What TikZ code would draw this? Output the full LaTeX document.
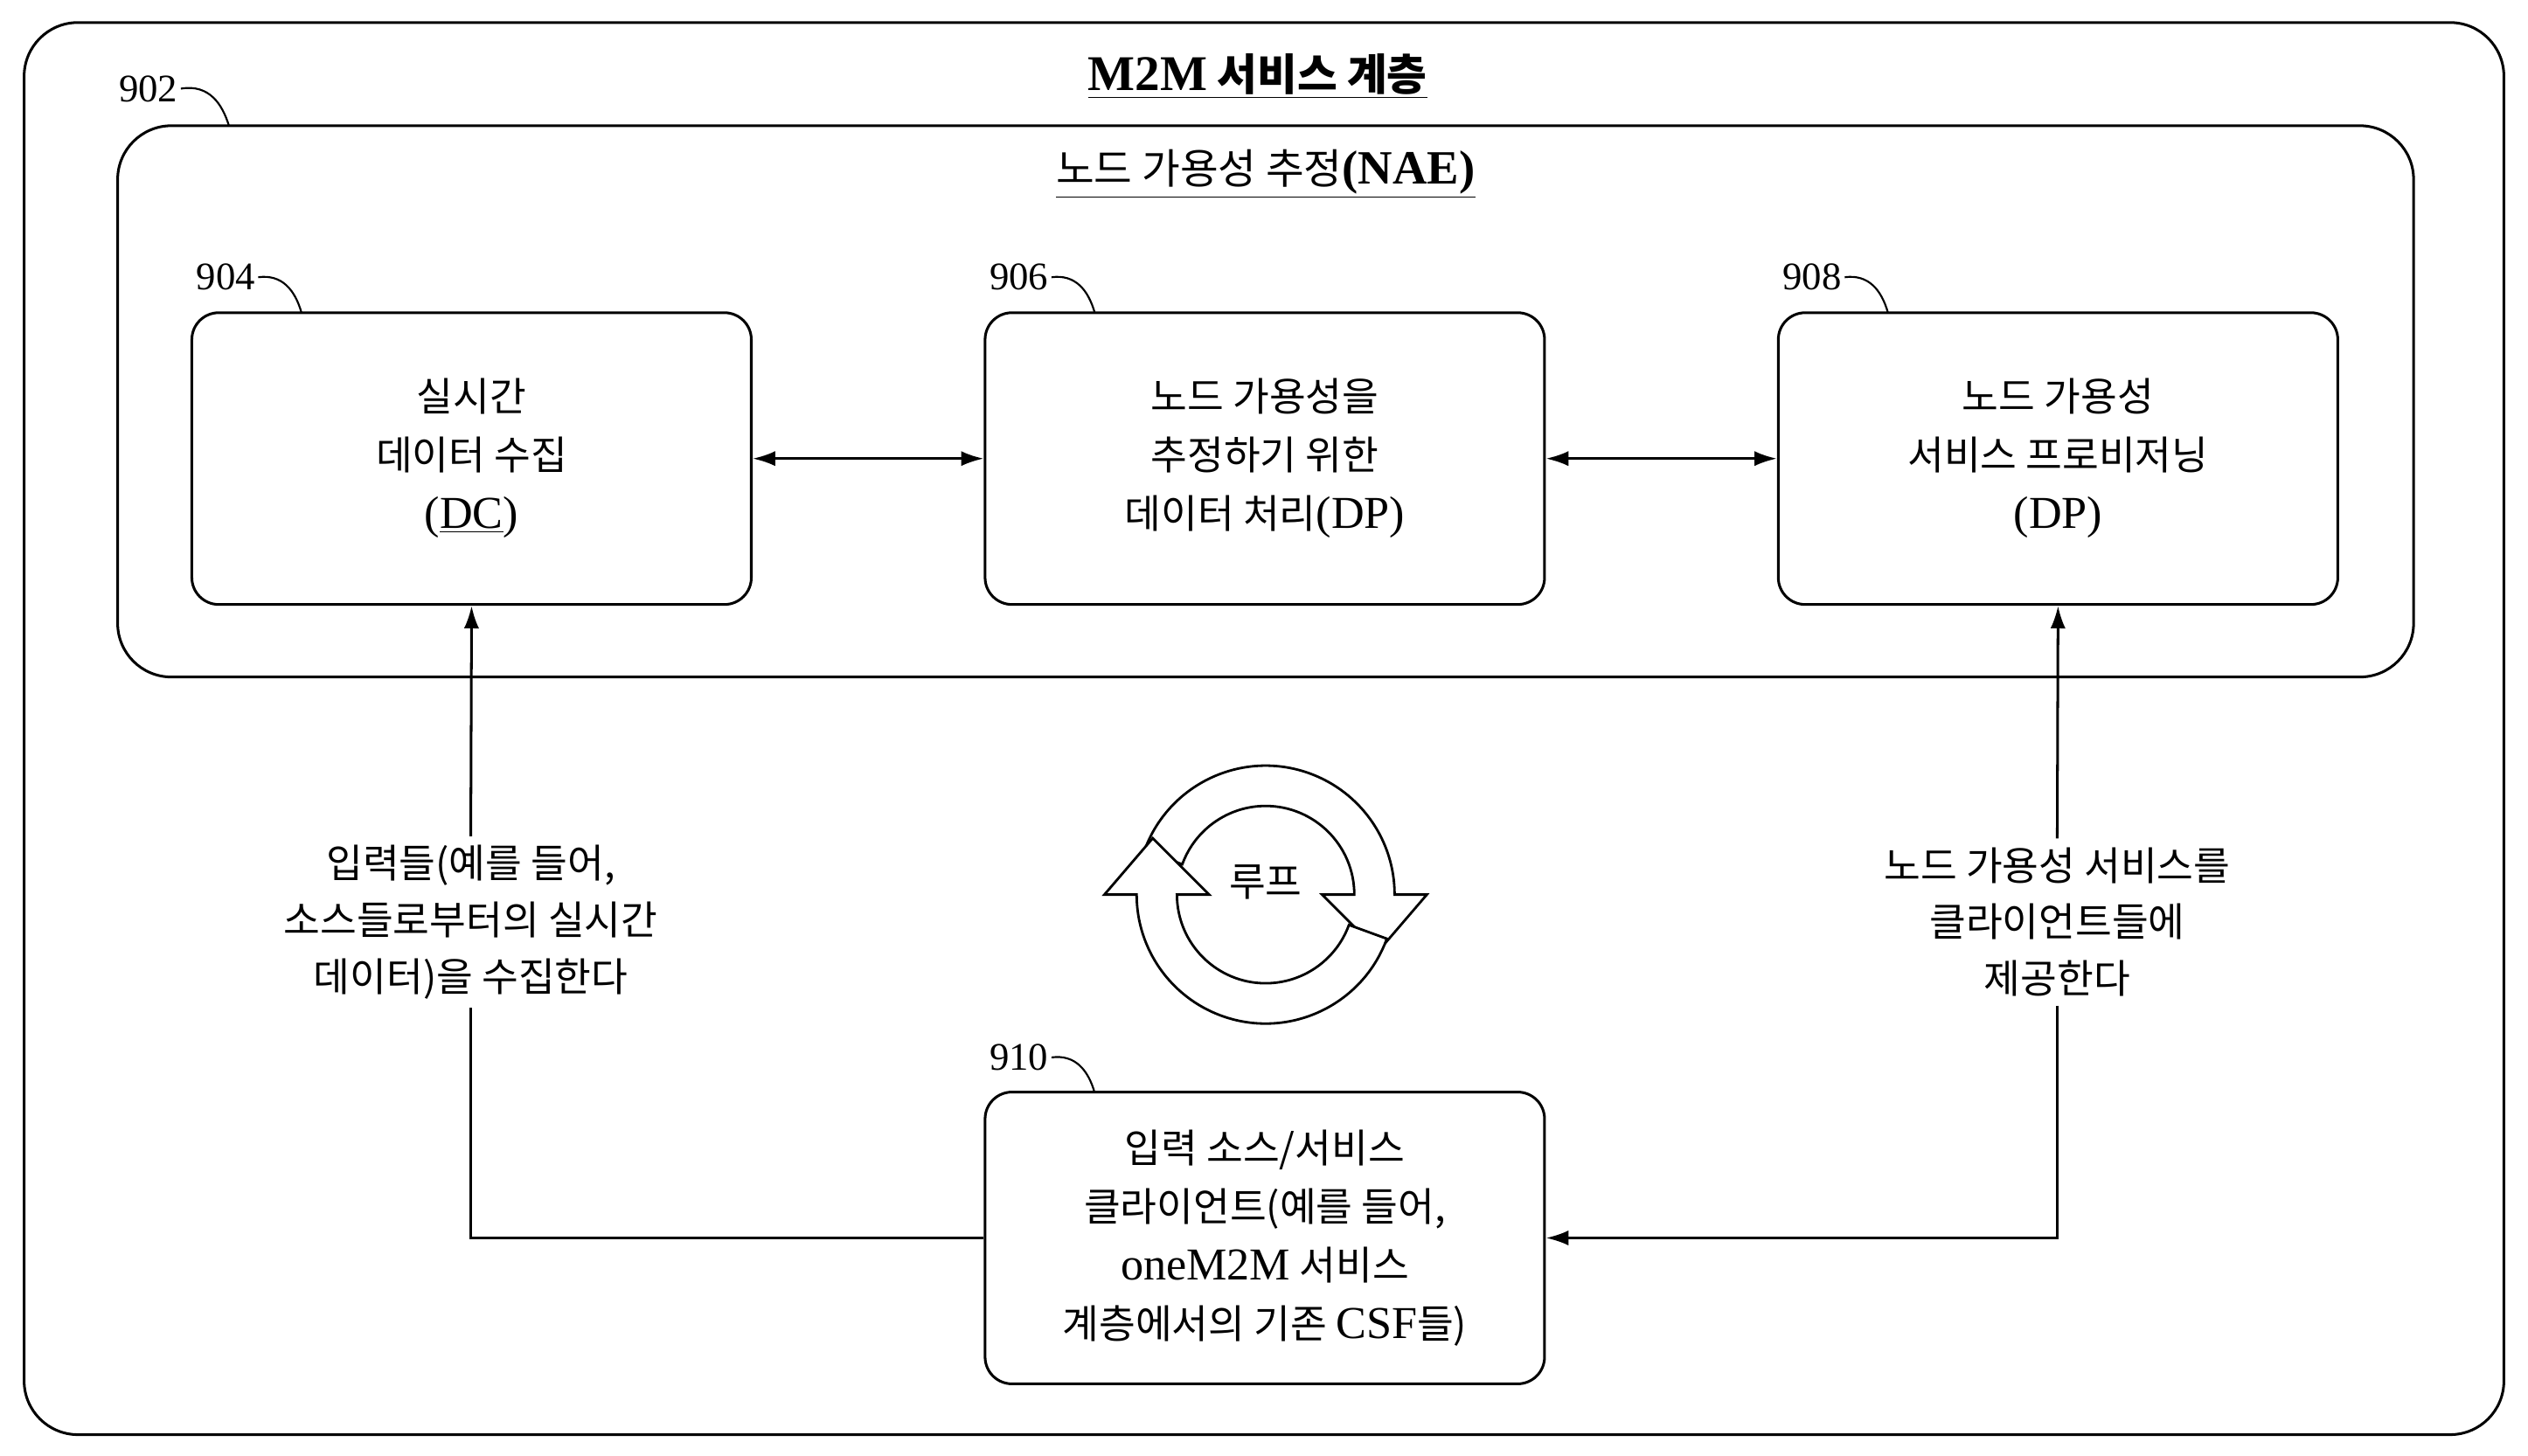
\documentclass[tikz,border=0pt]{standalone}
\usepackage{fontspec}
\setmainfont{Liberation Serif}[Scale=1.15]
\newfontfamily\kr{Noto Sans CJK KR}
\newcommand\lt[1]{{\rmfamily #1}}
\usetikzlibrary{arrows.meta}
\begin{document}
\begin{tikzpicture}[x=0.03cm,y=-0.03cm,line width=1.4pt,
 box/.style={draw,rounded corners=0.5cm,minimum width=10.41cm,minimum height=5.43cm,align=center,font=\kr\fontsize{21}{31}\selectfont},
 num/.style={font=\rmfamily\fontsize{18}{22}\selectfont,inner sep=1pt},
 lbl/.style={align=center,font=\kr\fontsize{21}{30}\selectfont,inner sep=4pt},
 arr/.style={-{Latex[length=0.42cm,width=0.28cm]}},
 darr/.style={{Latex[length=0.42cm,width=0.28cm]}-{Latex[length=0.42cm,width=0.28cm]}}]
\useasboundingbox (0,0) rectangle (1568,903);
\node[draw,rounded corners=1cm,minimum width=46.14cm,minimum height=26.28cm] (outer) at (784,452) {};
\node[font=\kr\bfseries\fontsize{23}{26}\selectfont] (t0) at (780,47) {\underline{\lt{\textbf{M2M}} 서비스 계층}};
\node[draw,rounded corners=1cm,minimum width=42.72cm,minimum height=10.26cm] (nae) at (785,249) {};
\node[font=\kr\fontsize{22}{26}\selectfont] (t1) at (785,108) {\underline{노드 가용성 추정\lt{\textbf{(NAE)}}}};
\node[box] (dc) at (292.5,284.5) {실시간\\데이터 수집\\\lt{(\underline{DC})}};
\node[box] (dp1) at (784.5,284.5) {노드 가용성을\\추정하기 위한\\데이터 처리\lt{(DP)}};
\node[box] (dp2) at (1276.5,284.5) {노드 가용성\\서비스 프로비저닝\\\lt{(DP)}};
\node[box] (src) at (784.5,768) {입력 소스/서비스\\클라이언트(예를 들어,\\\lt{oneM2M} 서비스\\계층에서의 기존 \lt{CSF}들)};
\node[num] (n902) at (92,55) {902};
\node[num] (n904) at (140,172) {904};
\node[num] (n906) at (632,172) {906};
\node[num] (n908) at (1124,172) {908};
\node[num] (n910) at (632,656) {910};
\draw[line width=1pt] (n902.east) .. controls (130,52) and (138,65) .. (142,78);
\draw[line width=1pt] (n904.east) .. controls (175,170) and (183,180) .. (187,194);
\draw[line width=1pt] (n906.east) .. controls (667,170) and (675,180) .. (679,194);
\draw[line width=1pt] (n908.east) .. controls (1159,170) and (1167,180) .. (1171,194);
\draw[line width=1pt] (n910.east) .. controls (667,654) and (675,664) .. (679,678);
\draw[darr] (dc) -- (dp1);
\draw[darr] (dp1) -- (dp2);
\node[lbl] (in) at (292,572) {입력들(예를 들어,\\소스들로부터의 실시간\\데이터)을 수집한다};
\node[lbl] (out) at (1276,572) {노드 가용성 서비스를\\클라이언트들에\\제공한다};
\draw[arr] (in.north) -- (dc.south);
\draw (src.west) -| (in.south);
\draw[arr] (out.north) -- (dp2.south);
\draw[arr] (out.south) |- (src.east);
\begin{scope}[shift={(785,555)},yscale=-1,line width=1.3pt]
\draw[fill=white] (160:80) arc (160:0:80) -- (100,0) -- (70,-35) -- (35,0) -- (55,0) arc (0:160:55) -- cycle;
\draw[fill=white] (-20:80) arc (-20:-180:80) -- (-100,0) -- (-70,35) -- (-35,0) -- (-55,0) arc (-180:-20:55) -- cycle;
\end{scope}
\node[font=\kr\fontsize{21}{24}\selectfont] (loop) at (785,547) {루프};
\end{tikzpicture}
\end{document}
